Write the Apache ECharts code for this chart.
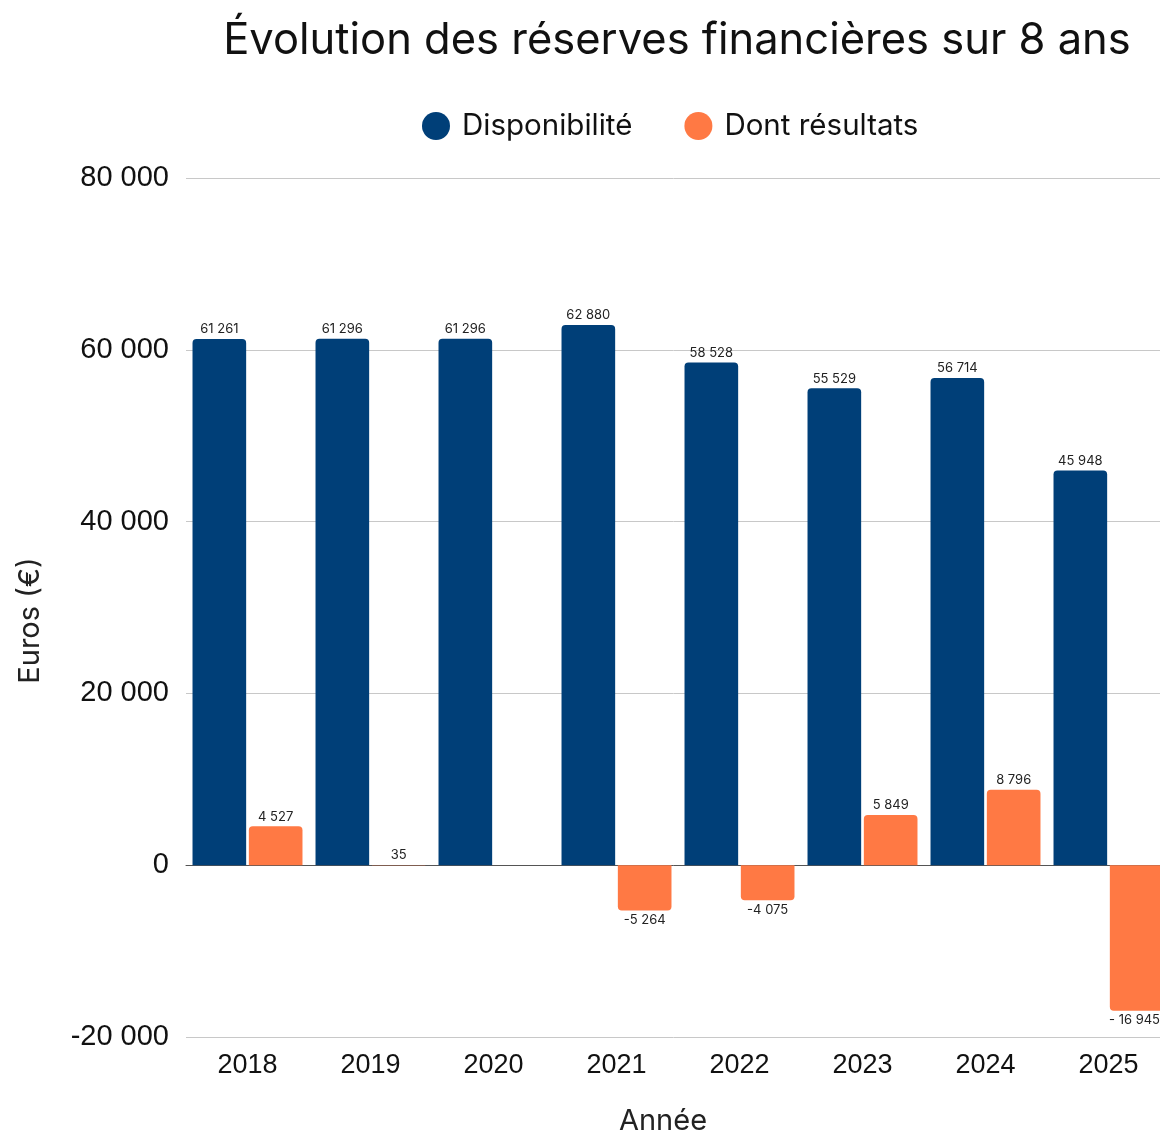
<!DOCTYPE html>
<html>
<head>
<meta charset="utf-8">
<script src="https://cdn.jsdelivr.net/npm/echarts@6/dist/echarts.min.js"></script>
<style>
    html, body {margin: 0; padding: 0; background: #fff;}
    #chart {width: 1160px; height: 1133px;}
</style>
</head>
<body>
<div id="chart"></div>
<script>
    // données
    var years = ['2018', '2019', '2020', '2021', '2022', '2023', '2024', '2025'];
    var disponibilite = [61261, 61296, 61296, 62880, 58528, 55529, 56714, 45948];
    var resultats = [4527, 35, null, -5264, -4075, 5849, 8796, -16945];
    var resultatLabels = ['4 527', '35', '', '-5 264', '-4 075', '5 849', '8 796', '- 16 945'];
    var yTicks = [-20000, 0, 20000, 40000, 60000, 80000];

    var fmt = function (v) {
        return String(v).replace(/\B(?=(\d{3})+(?!\d))/g, ' ');
    };

    var chart = echarts.init(document.getElementById('chart'));
    var chartWidth = 1160;

    chart.setOption({
        animation: false,
        title: {
            text: 'Évolution des réserves financières sur 8 ans',
            left: 672,
            textAlign: 'center',
            top: 14,
            textStyle: {fontFamily: 'Inter', fontSize: 43.5, fontWeight: 'normal', color: '#111'}
        },
        legend: {
            top: 111,
            left: 422,
            padding: 0,
            itemWidth: 28,
            itemHeight: 28,
            itemGap: 52,
            icon: 'circle',
            textStyle: {fontFamily: 'Inter', fontSize: 29.5, color: '#111', padding: [0, 0, 0, 7]},
            data: ['Disponibilité', 'Dont résultats']
        },
        grid: {left: 186, width: 984, top: 178, bottom: 96, containLabel: false, outerBoundsMode: 'none'},
        xAxis: {
            type: 'category',
            data: years,
            name: 'Année',
            nameLocation: 'middle',
            nameGap: 70,
            nameTextStyle: {fontFamily: 'Inter', fontSize: 29, color: '#222', padding: [0, 30, 0, 0]},
            axisTick: {show: false},
            axisLine: {onZero: true, lineStyle: {color: '#555', width: 1}},
            axisLabel: {fontFamily: 'Liberation Sans', fontSize: 27, color: '#111', margin: 15},
            position: 'bottom'
        },
        yAxis: {
            type: 'value',
            min: yTicks[0],
            max: yTicks[yTicks.length - 1],
            interval: 20000,
            name: 'Euros (€)',
            nameLocation: 'middle',
            nameGap: 141,
            nameTextStyle: {fontFamily: 'Inter', fontSize: 29, color: '#222', padding: [0, 26, 0, 0]},
            axisLabel: {
                fontFamily: 'Liberation Sans', fontSize: 29, color: '#111', margin: 17,
                formatter: function (v) { return v < 0 ? '-' + fmt(-v) : fmt(v); }
            },
            splitLine: {lineStyle: {color: '#c8c8c8', width: 1}}
        },
        series: [
            {
                name: 'Disponibilité',
                type: 'bar',
                data: disponibilite,
                barCategoryGap: '10.6%',
                barGap: '5%',
                itemStyle: {color: '#003f78', borderRadius: [4, 4, 0, 0]},
                label: {
                    show: true, position: 'top', distance: 3,
                    fontFamily: 'Inter', fontSize: 13, color: '#222',
                    formatter: function (p) { return fmt(p.value); }
                }
            },
            {
                name: 'Dont résultats',
                type: 'bar',
                // étiquettes des valeurs négatives sous la barre
                data: resultats.map(function (v) {
                    return {
                        value: v,
                        itemStyle: {borderRadius: v < 0 ? [0, 0, 4, 4] : [4, 4, 0, 0]},
                        label: {position: v < 0 ? 'bottom' : 'top'}
                    };
                }),
                itemStyle: {color: '#ff7944'},
                label: {
                    show: true, distance: 3,
                    fontFamily: 'Inter', fontSize: 13, color: '#222',
                    formatter: function (p) { return resultatLabels[p.dataIndex]; }
                },
                // garder l'étiquette dans le cadre
                labelLayout: function (params) {
                    var r = params.labelRect;
                    var over = r.x + r.width - chartWidth;
                    return over > 0 ? {dx: -over} : {};
                }
            }
        ]
    });
</script>
</body>
</html>
